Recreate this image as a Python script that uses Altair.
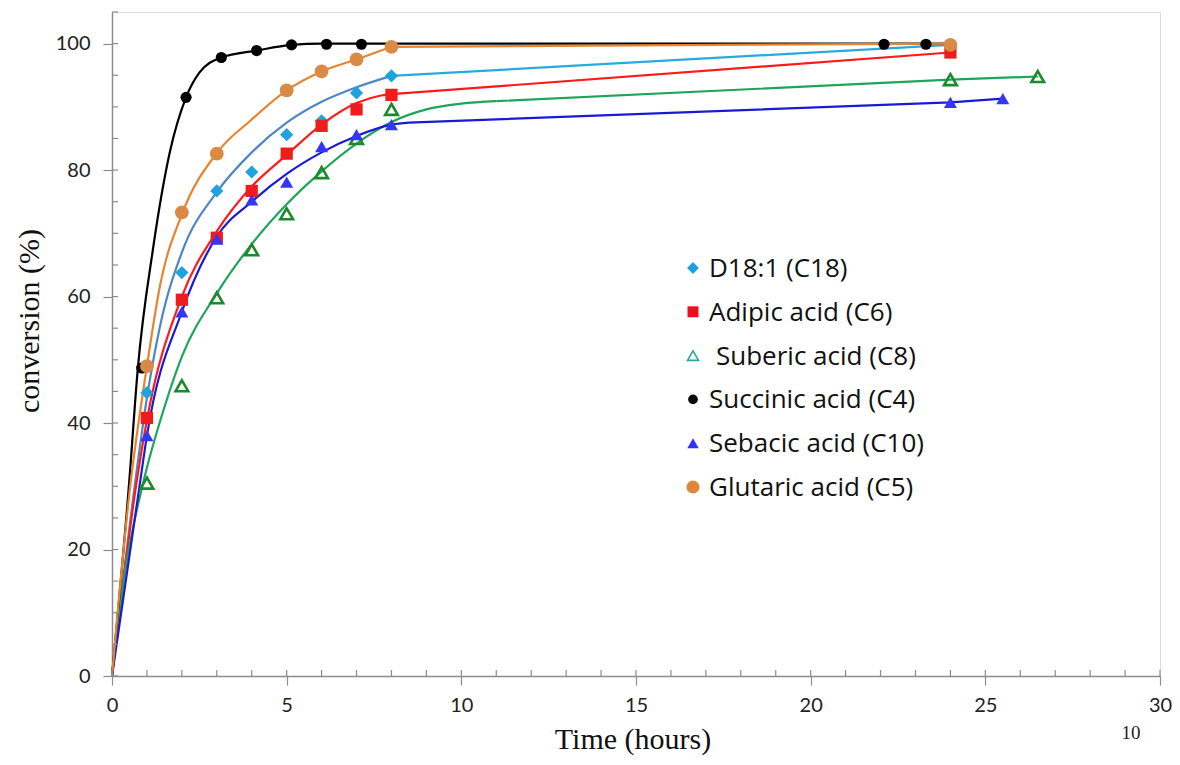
import altair as alt
import pandas as pd

# ---------------- data ----------------
series = ["D18:1 (C18)", "Adipic acid (C6)", " Suberic acid (C8)",
          "Succinic acid (C4)", "Sebacic acid (C10)", "Glutaric acid (C5)"]

# measured points
d18_x = [1, 2, 3, 4, 5, 6, 7, 8, 24]
d18_y = [44.8, 63.8, 76.7, 79.7, 85.6, 87.8, 92.2, 94.9, 99.8]
adip_x = [1, 2, 3, 4, 5, 6, 7, 8, 24]
adip_y = [40.8, 59.5, 69.3, 76.7, 82.6, 87.0, 89.6, 91.9, 98.6]
sub_x = [1, 2, 3, 4, 5, 6, 7, 8, 24, 26.5]
sub_y = [30.5, 45.9, 59.8, 67.4, 73.1, 79.6, 85.0, 89.6, 94.3, 94.8]
succ_x = [0.85, 2.12, 3.13, 4.14, 5.14, 6.14, 7.14, 22.1, 23.3]
succ_y = [48.7, 91.5, 97.8, 98.9, 99.8, 99.9, 99.9, 99.9, 99.9]
seb_x = [1, 2, 3, 4, 5, 6, 7, 8, 24, 25.5]
seb_y = [38.0, 57.6, 69.1, 75.3, 78.1, 83.7, 85.6, 87.2, 90.7, 91.3]
glut_x = [1, 2, 3, 5, 6, 7, 8, 24]
glut_y = [49.0, 73.3, 82.6, 92.6, 95.6, 97.5, 99.5, 99.8]

# fitted curves
d18_cx = [0, 0.66, 1, 1.37, 2, 3, 4, 5, 6, 7, 8]
d18_cy = [0, 30.5, 44, 55.2, 67, 76.5, 82.8, 87.5, 90.8, 93.1, 94.9]
adip_cx = [0, 0.7, 1, 2, 3, 4, 5, 6, 7, 7.7, 8]
adip_cy = [0, 30.5, 40.5, 60, 70.3, 77.4, 82.4, 87.2, 90.6, 91.8, 92.0]
sub_cx = [0, 0.42, 0.89, 1.5, 2, 3, 4, 5, 6, 7, 8, 9, 10, 11]
sub_cy = [0, 18, 30.5, 42.5, 50.5, 60.5, 68.3, 74.6, 79.8, 84.2, 87.6, 89.6, 90.5, 90.9]
succ_cx = [0, 0.49, 0.74, 1.17, 1.65, 2.12, 2.5, 3.13, 4.14, 5.14, 6, 8]
succ_cy = [0, 30.5, 48.7, 67.4, 82.7, 91.5, 95.4, 97.8, 98.9, 99.8, 100, 100]
seb_cx = [0, 0.8, 1, 2, 3, 4, 5, 6, 7, 8, 8.5]
seb_cy = [0, 30.5, 38, 57.6, 69.5, 75.0, 79.4, 82.8, 85.4, 87.2, 87.5]
glut_cx = [0, 0.5, 1, 1.37, 2, 3, 4, 5, 6, 7, 8]
glut_cy = [0, 29, 49, 61.6, 73, 82.7, 88, 92.6, 95.6, 97.5, 99.5]

# straight tails to the late measurements
d18_tx, d18_ty = [8, 24], [94.9, 99.8]
adip_tx, adip_ty = [8, 24], [92.0, 98.6]
sub_tx, sub_ty = [11, 24, 26.5], [90.9, 94.3, 94.8]
succ_tx, succ_ty = [8, 24], [100, 100]
seb_tx, seb_ty = [8.5, 24, 25.5], [87.5, 90.7, 91.3]
glut_tx, glut_ty = [8, 24], [99.5, 100]

x_labels = [0, 5, 10, 15, 20, 25, 30]
y_labels = [0, 20, 40, 60, 80, 100]
x_minor = list(range(0, 31))
y_minor = list(range(0, 106, 5))

# ---------------- styling ----------------
curve_colors = ["#4f86c6", "#ff1a1a", "#1da65a", "#000000", "#1a1ad6", "#e8832e"]
tail_colors = ["#2aa9e0", "#ff1a1a", "#1da65a", "#000000", "#1a1ad6", "#e8832e"]
W, H = 1048, 664
SANS = "Lato"
LEG = "Open Sans"
SERIF = "Liberation Serif"
AX = "#8c8c8c"

pts = [(d18_x, d18_y), (adip_x, adip_y), (sub_x, sub_y),
       (succ_x, succ_y), (seb_x, seb_y), (glut_x, glut_y)]
curves = [(d18_cx, d18_cy), (adip_cx, adip_cy), (sub_cx, sub_cy),
          (succ_cx, succ_cy), (seb_cx, seb_cy), (glut_cx, glut_cy)]
tails = [(d18_tx, d18_ty), (adip_tx, adip_ty), (sub_tx, sub_ty),
         (succ_tx, succ_ty), (seb_tx, seb_ty), (glut_tx, glut_ty)]


def long(pairs, prefix):
    rows = []
    for s, (xs, ys) in zip(series, pairs):
        for i, (a, b) in enumerate(zip(xs, ys)):
            rows.append({"series": s, "key": prefix + s, "t": a, "conv": b, "i": i})
    return pd.DataFrame(rows)


curve_df = long(curves, "curve:")
tail_df = long(tails, "tail:")
pts_df = long(pts, "pts:")

line_domain = ["curve:" + s for s in series] + ["tail:" + s for s in series]
line_range = curve_colors + tail_colors
line_color = alt.Color("key:N", scale=alt.Scale(domain=line_domain, range=line_range), legend=None)

xscale = alt.Scale(domain=[0, 30], nice=False, zero=False)
yscale = alt.Scale(domain=[0, 105], nice=False, zero=False)

xaxis = alt.Axis(values=x_labels, title=None, grid=False, domainColor=AX, domainWidth=1.5,
                 tickColor=AX, tickWidth=1.2, tickSize=9, labelFont=SANS, labelFontSize=20,
                 labelColor="#222222", labelPadding=10, labelFlush=False)
yaxis = alt.Axis(values=y_labels, title=None, grid=False, domainColor=AX, domainWidth=1.5,
                 tickColor=AX, tickWidth=1.2, tickSize=9, labelFont=SANS, labelFontSize=20,
                 labelColor="#222222", labelPadding=13, labelFlush=False)

X = alt.X("t:Q", scale=xscale, axis=xaxis)
Y = alt.Y("conv:Q", scale=yscale, axis=yaxis)

curve_layer = alt.Chart(curve_df).mark_line(interpolate="monotone", strokeWidth=2.2).encode(
    x=X, y=Y, color=line_color, order="i:Q")

tail_layer = alt.Chart(tail_df).mark_line(strokeWidth=2.2).encode(
    x=alt.X("t:Q", scale=xscale), y=alt.Y("conv:Q", scale=yscale),
    color=line_color, order="i:Q")

# inward minor/major ticks
xt_df = pd.DataFrame({"t": x_minor})
yt_df = pd.DataFrame({"conv": y_minor})
xticks = alt.Chart(xt_df).mark_rule(color=AX, strokeWidth=1.2).encode(
    x=alt.X("t:Q", scale=xscale), y=alt.value(H), y2=alt.value(H - 6))
yticks = alt.Chart(yt_df).mark_rule(color=AX, strokeWidth=1.2).encode(
    y=alt.Y("conv:Q", scale=yscale), x=alt.value(0), x2=alt.value(6))

marker_styles = [
    dict(shape="diamond", filled=True, color="#1fa3dd", size=175, opacity=1),
    dict(shape="square", filled=True, color="#ee1c1c", size=150, opacity=1),
    dict(shape="triangle-up", filled=False, color="#1b8a2b", size=160, strokeWidth=2.6, opacity=1),
    dict(shape="circle", filled=True, color="#000000", size=125, opacity=1),
    dict(shape="triangle-up", filled=True, color="#3535f5", size=170, opacity=1),
    dict(shape="circle", filled=True, color="#d98a45", size=190, opacity=1),
]
point_layers = []
for s, st in zip(series, marker_styles):
    d = pts_df[pts_df["series"] == s]
    point_layers.append(alt.Chart(d).mark_point(**st).encode(
        x=alt.X("t:Q", scale=xscale), y=alt.Y("conv:Q", scale=yscale)))
# draw order: Glutaric on top
order_idx = [0, 1, 2, 4, 3, 5]
point_layers = [point_layers[i] for i in order_idx]

# legend (drawn inside the plot)
legend_styles = [
    dict(shape="diamond", filled=True, color="#1ba1e2", size=140),
    dict(shape="square", filled=True, color="#e8101a", size=120),
    dict(shape="triangle-up", filled=False, color="#2aa79a", size=120, strokeWidth=1.6),
    dict(shape="circle", filled=True, color="#0a0a14", size=95),
    dict(shape="triangle-up", filled=True, color="#3030ff", size=130),
    dict(shape="circle", filled=True, color="#e0863b", size=170),
]
one = pd.DataFrame({"k": [0]})
legend_layers = []
for i, (s, st) in enumerate(zip(series, legend_styles)):
    yy = 256 + 43.8 * i
    lead = 7 if s.startswith(" ") else 0
    legend_layers.append(alt.Chart(one).mark_point(**st, opacity=1).encode(
        x=alt.value(581), y=alt.value(yy)))
    legend_layers.append(alt.Chart(one).mark_text(
        text=s, font=LEG, fontSize=26, align="left", baseline="middle", color="#111111",
        dx=lead).encode(x=alt.value(597), y=alt.value(yy + 1)))

xtitle = alt.Chart(one).mark_text(text="Time (hours)", font=SERIF, fontSize=30,
                                  align="center", baseline="alphabetic", color="#111111").encode(
    x=alt.value(521), y=alt.value(737))
ytitle = alt.Chart(one).mark_text(text="conversion (%)", font=SERIF, fontSize=30, angle=270,
                                  align="center", baseline="middle", color="#111111").encode(
    x=alt.value(-82), y=alt.value(309))
pagenum = alt.Chart(one).mark_text(text="10", font=SERIF, fontSize=19,
                                   align="center", baseline="middle", color="#222222").encode(
    x=alt.value(1019), y=alt.value(721))

chart = alt.layer(
    curve_layer, tail_layer, xticks, yticks, *point_layers, *legend_layers,
    xtitle, ytitle, pagenum
).properties(
    width=W, height=H,
    autosize=alt.AutoSizeParams(type="none"),
    padding={"left": 104, "top": 4, "right": 12, "bottom": 80},
).configure_view(stroke=None).configure(background="white")

chart.save("out.html", embed_options={"renderer": "svg", "actions": False})
